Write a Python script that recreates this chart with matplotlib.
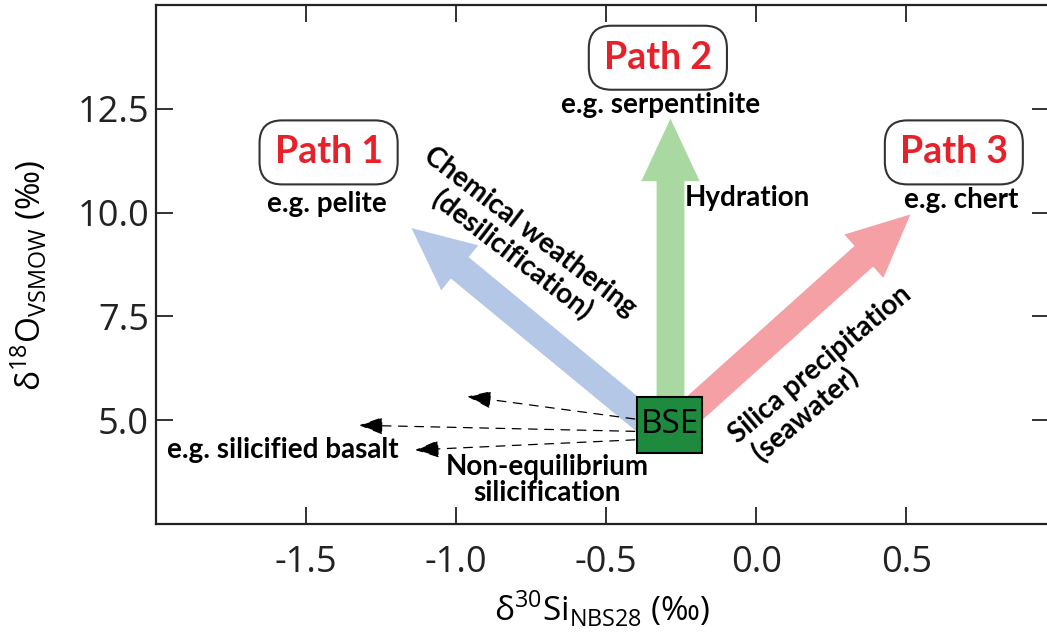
import matplotlib
matplotlib.use("Agg")
import matplotlib.pyplot as plt
from matplotlib.patches import FancyArrowPatch, Rectangle

plt.rcParams["font.family"] = ["Open Sans", "DejaVu Sans"]
plt.rcParams["mathtext.fontset"] = "custom"
plt.rcParams["mathtext.rm"] = "Open Sans"

# axis ticks
x_ticks = [-1.5, -1.0, -0.5, 0.0, 0.5]
y_ticks = [5.0, 7.5, 10.0, 12.5]

# BSE starting composition
bse_x, bse_y = -0.288, 4.89

# main paths (tail -> tip)
path_names = ["Path 1", "Path 2", "Path 3"]
path_label_x = [-1.425, -0.328, 0.658]
path_label_y = [11.45, 13.73, 11.45]
example_names = ["e.g. pelite", "e.g. serpentinite", "e.g. chert"]
example_x = [-1.43, -0.32, 0.683]
example_y = [10.2, 12.6, 10.31]
arrow_tail_x = [-0.33, -0.286, -0.25]
arrow_tail_y = [4.75, 4.9, 5.0]
arrow_tip_x = [-1.156, -0.286, 0.52]
arrow_tip_y = [9.67, 12.33, 10.0]
arrow_colors = ["#b4c7e7", "#a9d9a0", "#f4a0a4"]

# non-equilibrium silicification (dashed)
dash_tail_x = [-0.396, -0.396, -0.396]
dash_tail_y = [5.02, 4.73, 4.53]
dash_tip_x = [-0.972, -1.333, -1.146]
dash_tip_y = [5.58, 4.88, 4.28]

bold_font = ["Lato", "DejaVu Sans"]
note_size = 20

fig = plt.figure(figsize=(10.47, 6.38), dpi=100)
ax = fig.add_axes([156 / 1047, 1 - 524 / 638, (1049 - 156) / 1047, (524 - 5) / 638])
ax.set_xlim(-2.0, 0.975)
ax.set_ylim(2.5, 15.0)

for i in range(3):
    arr = FancyArrowPatch(
        (arrow_tail_x[i], arrow_tail_y[i]),
        (arrow_tip_x[i], arrow_tip_y[i]),
        arrowstyle="simple,head_length=45,head_width=42,tail_width=20",
        mutation_scale=1,
        color=arrow_colors[i],
        lw=0,
        zorder=2,
    )
    ax.add_patch(arr)

for i in range(3):
    arr = FancyArrowPatch(
        (dash_tail_x[i], dash_tail_y[i]),
        (dash_tip_x[i], dash_tip_y[i]),
        arrowstyle="-|>,head_length=15,head_width=5.5",
        mutation_scale=1,
        color="black",
        lw=0.9,
        linestyle=(0, (7, 6)),
        zorder=3,
    )
    ax.add_patch(arr)

w, h = 0.217, 1.35
ax.add_patch(
    Rectangle((bse_x - w / 2, bse_y - h / 2), w, h, facecolor="#1e8a3e",
              edgecolor="black", lw=1.5, zorder=4)
)
ax.text(bse_x, bse_y, "BSE", ha="center", va="center", fontsize=24, zorder=5)

for i in range(3):
    ax.text(path_label_x[i], path_label_y[i], path_names[i], ha="center", va="center",
            fontsize=27, fontweight="bold", color="#e8202a", family=bold_font,
            bbox=dict(boxstyle="round,pad=0.4,rounding_size=0.6", fc="white",
                      ec="#333333", lw=1.5))
    ax.text(example_x[i], example_y[i], example_names[i], ha="center", va="center",
            fontsize=note_size, fontweight="bold", family=bold_font)

ax.text(-0.239, 10.34, "Hydration", ha="left", va="center", fontsize=note_size,
        fontweight="bold", family=bold_font)
ax.text(-0.785, 9.25, "Chemical weathering\n(desilicification)", ha="center", va="center",
        rotation=-37.5, rotation_mode="anchor", fontsize=note_size, fontweight="bold",
        family=bold_font, linespacing=1.15)
ax.text(0.245, 6.05, "Silica precipitation\n (seawater)", ha="center", va="center",
        multialignment="left", rotation=40, rotation_mode="anchor", fontsize=note_size,
        fontweight="bold", family=bold_font, linespacing=1.15)
ax.text(-1.578, 4.29, "e.g. silicified basalt", ha="center", va="center", fontsize=note_size,
        fontweight="bold", family=bold_font)
ax.text(-0.696, 3.57, "Non-equilibrium\nsilicification", ha="center", va="center",
        fontsize=note_size, fontweight="bold", family=bold_font, linespacing=1.0)

ax.set_xticks(x_ticks)
ax.set_yticks(y_ticks)
ax.set_xticklabels([f"{v:.1f}" for v in x_ticks])
ax.set_yticklabels([f"{v:.1f}" for v in y_ticks])
ax.tick_params(direction="in", length=12, width=1.3, labelsize=26,
               top=True, right=True, colors="#222222")
ax.tick_params(axis="x", pad=15)
ax.tick_params(axis="y", pad=5)
for s in ax.spines.values():
    s.set_linewidth(1.6)
    s.set_color("#222222")

ax.set_xlabel(r"δ$^{30}$Si$_{\mathrm{NBS28}}$ (‰)", fontsize=24)
ax.set_ylabel(r"δ$^{18}$O$_{\mathrm{VSMOW}}$ (‰)", fontsize=24)
ax.xaxis.set_label_coords(0.5, -0.125)
ax.yaxis.set_label_coords(-0.12, 0.478)

fig.savefig("out.png", dpi=100)
